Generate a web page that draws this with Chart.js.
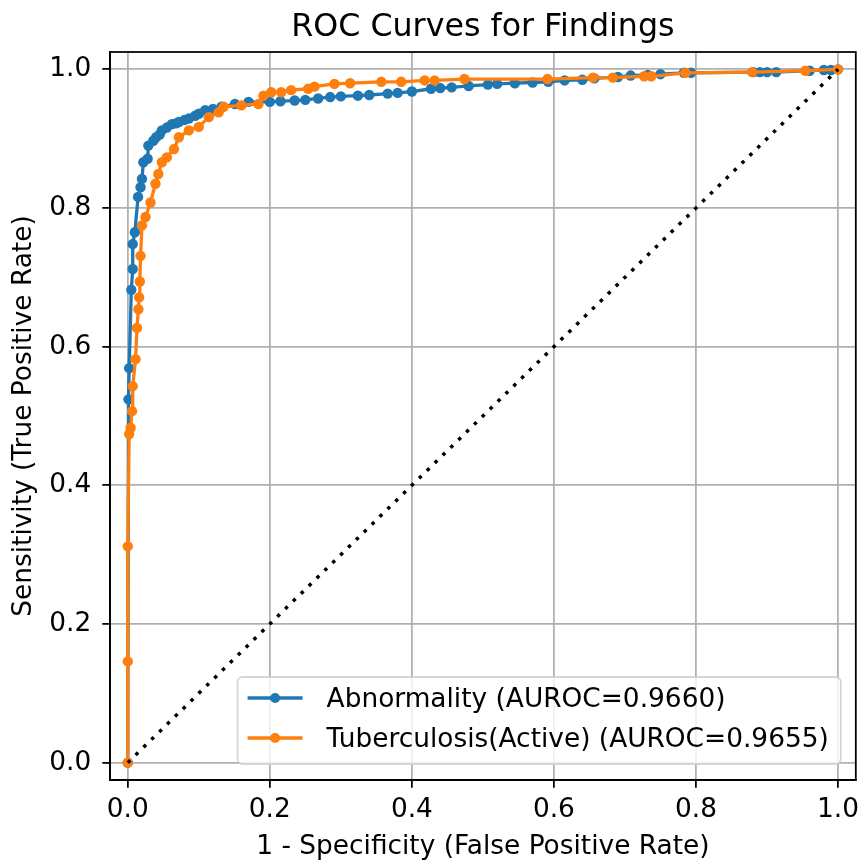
<!DOCTYPE html>
<html>
<head>
<meta charset="utf-8">
<script src="https://cdn.jsdelivr.net/npm/chart.js@4.4.1/dist/chart.umd.min.js"></script>
<style>
  html, body { margin: 0; padding: 0; background: #ffffff; }
  #wrap { width: 861px; height: 862px; }
</style>
</head>
<body>
<div id="wrap"><canvas id="c" width="861" height="862"></canvas></div>
<script>
// ---- Data ----
const chartTitle = 'ROC Curves for Findings';
const xAxisLabel = '1 - Specificity (False Positive Rate)';
const yAxisLabel = 'Sensitivity (True Positive Rate)';

const abnLabel = 'Abnormality (AUROC=0.9660)';
const abnFpr = [0, 0.001, 0.002, 0.005, 0.007, 0.007, 0.010, 0.0145, 0.018, 0.020, 0.022, 0.028, 0.029, 0.036, 0.040, 0.045, 0.048, 0.055, 0.062, 0.068, 0.072, 0.080, 0.086, 0.095, 0.100, 0.109, 0.120, 0.132, 0.151, 0.170, 0.200, 0.215, 0.235, 0.250, 0.268, 0.285, 0.300, 0.324, 0.340, 0.366, 0.380, 0.400, 0.427, 0.440, 0.456, 0.480, 0.507, 0.520, 0.545, 0.570, 0.592, 0.615, 0.640, 0.657, 0.690, 0.708, 0.732, 0.750, 0.783, 0.793, 0.881, 0.890, 0.900, 0.913, 0.960, 0.980, 0.990, 1.0];
const abnTpr = [0, 0.524, 0.569, 0.682, 0.712, 0.748, 0.765, 0.816, 0.830, 0.842, 0.866, 0.871, 0.890, 0.897, 0.902, 0.906, 0.912, 0.916, 0.921, 0.922, 0.924, 0.927, 0.929, 0.933, 0.936, 0.941, 0.943, 0.946, 0.950, 0.953, 0.953, 0.954, 0.955, 0.956, 0.958, 0.960, 0.961, 0.962, 0.963, 0.965, 0.966, 0.968, 0.972, 0.973, 0.974, 0.976, 0.978, 0.979, 0.980, 0.981, 0.982, 0.984, 0.985, 0.987, 0.989, 0.991, 0.992, 0.993, 0.995, 0.995, 0.996, 0.996, 0.996, 0.996, 0.998, 0.999, 0.999, 1.0];

const tbLabel = 'Tuberculosis(Active) (AUROC=0.9655)';
const tbFpr = [0, 0, 0, 0.002, 0.004, 0.006, 0.007, 0.011, 0.013, 0.015, 0.016, 0.017, 0.018, 0.020, 0.025, 0.032, 0.039, 0.043, 0.048, 0.055, 0.065, 0.072, 0.086, 0.100, 0.114, 0.128, 0.135, 0.160, 0.184, 0.191, 0.202, 0.216, 0.230, 0.254, 0.263, 0.291, 0.313, 0.357, 0.385, 0.418, 0.432, 0.474, 0.591, 0.655, 0.683, 0.727, 0.737, 0.785, 0.879, 0.954, 1.0];
const tbTpr = [0, 0.146, 0.312, 0.474, 0.483, 0.507, 0.543, 0.582, 0.627, 0.654, 0.671, 0.694, 0.731, 0.775, 0.787, 0.808, 0.835, 0.849, 0.866, 0.873, 0.885, 0.902, 0.912, 0.917, 0.931, 0.938, 0.946, 0.948, 0.950, 0.962, 0.967, 0.967, 0.970, 0.972, 0.975, 0.979, 0.980, 0.982, 0.982, 0.984, 0.984, 0.986, 0.986, 0.988, 0.988, 0.990, 0.990, 0.995, 0.996, 0.998, 1.0];

const diagX = [0, 1];
const diagY = [0, 1];

const tickValues = [0, 0.2, 0.4, 0.6, 0.8, 1.0];
const axisMin = -0.025;
const axisMax = 1.025;

// ---- Build the chart ----
const BLUE = '#1f77b4';
const ORANGE = '#ff7f0e';
const FONT = '"DejaVu Sans", "Liberation Sans", sans-serif';
const BASE = 26.4;
Chart.defaults.font.family = FONT;
Chart.defaults.color = '#000';

function pts(xs, ys) { return xs.map((x, i) => ({ x: x, y: ys[i] })); }

const framePlugin = {
  id: 'frame',
  afterDatasetsDraw(chart) {
    const { ctx, chartArea: a } = chart;
    ctx.save();
    ctx.strokeStyle = '#000';
    ctx.lineWidth = 1.76;
    ctx.strokeRect(a.left, a.top, a.right - a.left, a.bottom - a.top);
    ctx.restore();
  }
};

const titlePlugin = {
  id: 'mplTitle',
  afterDraw(chart) {
    const { ctx, chartArea: a } = chart;
    ctx.save();
    ctx.font = '31.7px ' + FONT;
    ctx.fillStyle = '#000';
    ctx.textAlign = 'center';
    ctx.textBaseline = 'alphabetic';
    ctx.fillText(chartTitle, (a.left + a.right) / 2, 36);
    ctx.restore();
  }
};

const legendPlugin = {
  id: 'mplLegend',
  afterDraw(chart) {
    const { ctx, chartArea: a } = chart;
    const items = chart.data.datasets.filter(d => d.inLegend);
    ctx.save();
    ctx.font = BASE + 'px ' + FONT;
    let maxW = 0;
    items.forEach(d => { maxW = Math.max(maxW, ctx.measureText(d.label).width); });
    const w = 89 + maxW + 12;
    const h = 87;
    const right = a.right - 15;
    const bottom = a.bottom - 16;
    const left = right - w;
    const top = bottom - h;
    ctx.beginPath();
    ctx.roundRect(left, top, w, h, 5);
    ctx.fillStyle = 'rgba(255,255,255,0.8)';
    ctx.fill();
    ctx.strokeStyle = 'rgba(204,204,204,0.8)';
    ctx.lineWidth = 1.76;
    ctx.stroke();
    items.forEach((d, i) => {
      const ly = top + 21 + i * 40;
      ctx.strokeStyle = d.borderColor;
      ctx.lineWidth = 3.3;
      ctx.beginPath();
      ctx.moveTo(left + 10, ly);
      ctx.lineTo(left + 65, ly);
      ctx.stroke();
      ctx.fillStyle = d.borderColor;
      ctx.beginPath();
      ctx.arc(left + 37.5, ly, 5, 0, Math.PI * 2);
      ctx.fill();
      ctx.fillStyle = '#000';
      ctx.textAlign = 'left';
      ctx.textBaseline = 'alphabetic';
      ctx.fillText(d.label, left + 89, top + 30 + i * 40);
    });
    ctx.restore();
  }
};

function gridOpts() {
  return {
    color: '#b0b0b0',
    lineWidth: 1.76,
    tickColor: '#000',
    tickLength: 7.7,
    tickWidth: 1.76,
    drawTicks: true
  };
}

new Chart(document.getElementById('c'), {
  type: 'scatter',
  data: {
    datasets: [
      {
        label: abnLabel,
        inLegend: true,
        data: pts(abnFpr, abnTpr),
        showLine: true,
        borderColor: BLUE,
        backgroundColor: BLUE,
        pointBackgroundColor: BLUE,
        borderWidth: 3.3,
        pointRadius: 5.2,
        pointBorderWidth: 0,
        pointHoverRadius: 5.2,
        tension: 0,
        order: 3
      },
      {
        label: tbLabel,
        inLegend: true,
        data: pts(tbFpr, tbTpr),
        showLine: true,
        borderColor: ORANGE,
        backgroundColor: ORANGE,
        pointBackgroundColor: ORANGE,
        borderWidth: 3.3,
        pointRadius: 5.2,
        pointBorderWidth: 0,
        pointHoverRadius: 5.2,
        tension: 0,
        order: 2
      },
      {
        label: 'chance',
        inLegend: false,
        data: pts(diagX, diagY),
        showLine: true,
        borderColor: '#000',
        borderWidth: 3.5,
        borderDash: [3.5, 7.5],
        borderCapStyle: 'butt',
        pointRadius: 0,
        tension: 0,
        order: 1
      }
    ]
  },
  options: {
    responsive: false,
    animation: false,
    devicePixelRatio: 1,
    layout: { padding: { top: 52, left: 0, right: 3, bottom: 0 } },
    plugins: {
      legend: { display: false },
      title: { display: false },
      tooltip: { enabled: false }
    },
    scales: {
      x: {
        type: 'linear',
        min: axisMin,
        max: axisMax,
        afterBuildTicks(s) { s.ticks = tickValues.map(v => ({ value: v })); },
        afterFit(s) { s.height = 82; s.paddingLeft = 0; s.paddingRight = 0; },
        ticks: {
          callback: v => Number(v).toFixed(1),
          font: { size: BASE },
          color: '#000',
          padding: 7,
          maxRotation: 0,
          autoSkip: false
        },
        grid: gridOpts(),
        border: { display: true, color: '#000', width: 1.76 },
        title: {
          display: true,
          text: xAxisLabel,
          font: { size: BASE },
          color: '#000',
          padding: { top: 0, bottom: -1 }
        }
      },
      y: {
        type: 'linear',
        min: axisMin,
        max: axisMax,
        afterBuildTicks(s) { s.ticks = tickValues.map(v => ({ value: v })); },
        afterFit(s) { s.width = 110; s.paddingTop = 0; s.paddingBottom = 0; },
        ticks: {
          callback: v => Number(v).toFixed(1),
          font: { size: BASE },
          color: '#000',
          padding: 11,
          autoSkip: false
        },
        grid: gridOpts(),
        border: { display: true, color: '#000', width: 1.76 },
        title: {
          display: true,
          text: yAxisLabel,
          font: { size: BASE },
          color: '#000',
          padding: { top: 8, bottom: 0 }
        }
      }
    }
  },
  plugins: [framePlugin, legendPlugin, titlePlugin]
});
</script>
</body>
</html>
